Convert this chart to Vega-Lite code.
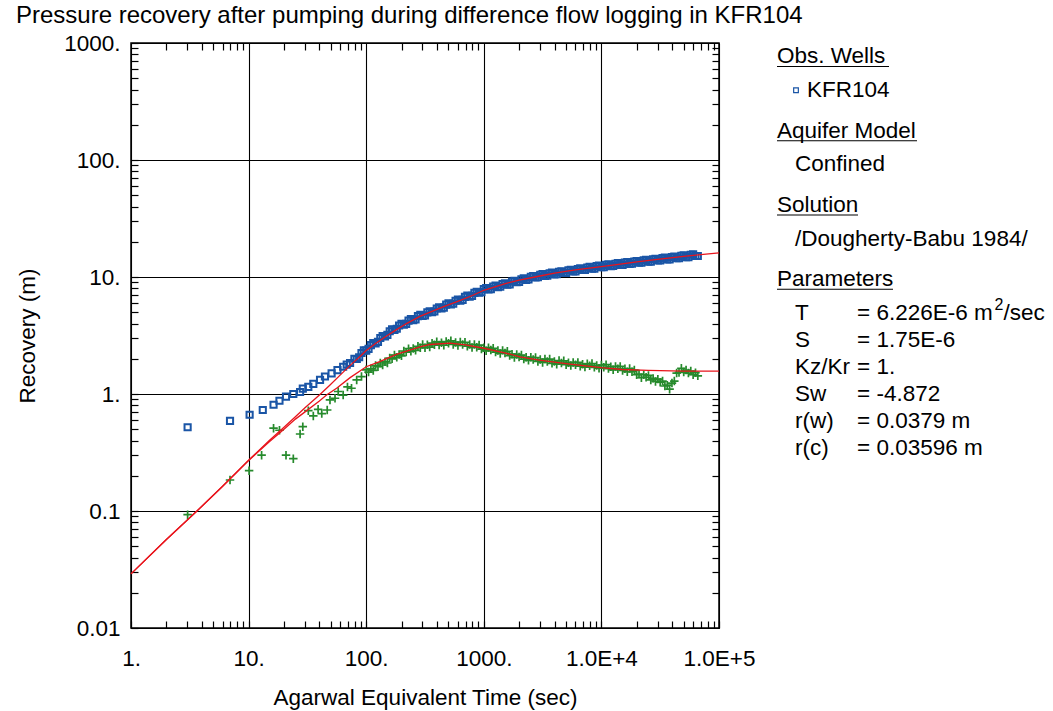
{
  "$schema": "https://vega.github.io/schema/vega-lite/v6.json",
  "padding": {"left": 15, "top": 4, "right": 0, "bottom": 0},
  "background": "white",
  "bounds": "flush",
  "spacing": 58,
  "title": {"text": "Pressure recovery after pumping during difference flow logging in KFR104", "anchor": "start", "fontSize": 24, "font": "Liberation Sans", "fontWeight": "normal", "color": "black", "offset": 3},
  "config": {
    "view": {"stroke": "black", "strokeWidth": 1.5},
    "axis": {"labelFont": "Liberation Sans", "titleFont": "Liberation Sans", "labelColor": "black", "titleColor": "black", "titleFontWeight": "normal", "labelFontSize": 22.5, "titleFontSize": 22.5, "tickColor": "black", "tickWidth": 1.2, "gridColor": "black", "gridWidth": 1.1, "domain": false, "labelOverlap": false, "labelFlush": false, "labelBound": false},
    "text": {"font": "Liberation Sans", "fontSize": 22.5, "color": "black"}
  },
  "datasets": {
    "rec": [
      {"t":3.03,"s":0.52},{"t":6.95,"s":0.59},{"t":10.2,"s":0.665},{"t":13.2,"s":0.73},{"t":16.3,"s":0.81},{"t":18.3,"s":0.876},{"t":20.8,"s":0.95},{"t":24.0,"s":1.0},{"t":27.4,"s":1.04},{"t":28.9,"s":1.11},{"t":32.2,"s":1.15},{"t":35.5,"s":1.22},{"t":40.5,"s":1.32},{"t":44.6,"s":1.41},{"t":50.8,"s":1.5},{"t":57.0,"s":1.6},{"t":63.7,"s":1.71},{"t":68.3,"s":1.78},{"t":72.9,"s":1.84},
      {"t":79.4,"s":2.0},{"t":83.2,"s":1.99},{"t":87.1,"s":2.06},{"t":91.2,"s":2.24},{"t":95.5,"s":2.36},{"t":100,"s":2.35},{"t":104.7,"s":2.43},{"t":109.6,"s":2.62},{"t":114.8,"s":2.73},{"t":120.2,"s":2.71},{"t":125.9,"s":2.79},{"t":131.8,"s":3.01},{"t":138.0,"s":3.13},{"t":144.5,"s":3.11},{"t":151.4,"s":3.2},{"t":158.5,"s":3.44},{"t":166.0,"s":3.57},{"t":173.8,"s":3.53},{"t":182.0,"s":3.61},{"t":190.5,"s":3.85},{"t":199.5,"s":3.97},{"t":208.9,"s":3.91},{"t":218.8,"s":3.98},{"t":229.1,"s":4.24},{"t":239.9,"s":4.36},{"t":251.2,"s":4.28},{"t":263.0,"s":4.35},{"t":275.4,"s":4.63},{"t":288.4,"s":4.75},{"t":302.0,"s":4.64},{"t":316.2,"s":4.7},{"t":331.1,"s":4.99},{"t":346.7,"s":5.1},{"t":363.1,"s":5.0},{"t":380.2,"s":5.07},{"t":398.1,"s":5.38},{"t":416.9,"s":5.51},{"t":436.5,"s":5.4},{"t":457.1,"s":5.48},{"t":478.6,"s":5.81},{"t":501.2,"s":5.95},{"t":524.8,"s":5.83},{"t":549.5,"s":5.91},{"t":575.4,"s":6.27},{"t":602.6,"s":6.42},{"t":631.0,"s":6.29},{"t":660.7,"s":6.38},{"t":691.8,"s":6.77},{"t":724.4,"s":6.93},{"t":758.6,"s":6.79},{"t":794.3,"s":6.89},{"t":831.8,"s":7.31},{"t":871.0,"s":7.48},{"t":912.0,"s":7.33},{"t":955.0,"s":7.43},{"t":1000,"s":7.87},
      {"t":1047,"s":8.05},{"t":1096,"s":7.83},{"t":1148,"s":7.88},{"t":1202,"s":8.3},{"t":1259,"s":8.44},{"t":1318,"s":8.2},{"t":1380,"s":8.26},{"t":1445,"s":8.7},{"t":1514,"s":8.85},{"t":1585,"s":8.6},{"t":1660,"s":8.66},{"t":1738,"s":9.12},{"t":1820,"s":9.28},{"t":1905,"s":9.02},{"t":1995,"s":9.07},{"t":2089,"s":9.56},{"t":2188,"s":9.73},{"t":2291,"s":9.46},{"t":2399,"s":9.52},{"t":2512,"s":10.03},{"t":2630,"s":10.2},{"t":2754,"s":9.91},{"t":2884,"s":9.98},{"t":3020,"s":10.46},{"t":3162,"s":10.59},{"t":3311,"s":10.24},{"t":3467,"s":10.26},{"t":3631,"s":10.76},{"t":3802,"s":10.89},{"t":3981,"s":10.53},{"t":4169,"s":10.55},{"t":4365,"s":11.06},{"t":4571,"s":11.19},{"t":4786,"s":10.84},{"t":5012,"s":10.86},{"t":5248,"s":11.38},{"t":5495,"s":11.51},{"t":5754,"s":11.14},{"t":6026,"s":11.16},{"t":6310,"s":11.7},{"t":6607,"s":11.85},{"t":6918,"s":11.47},{"t":7244,"s":11.49},{"t":7586,"s":12.04},{"t":7943,"s":12.19},{"t":8318,"s":11.79},{"t":8710,"s":11.81},{"t":9120,"s":12.38},{"t":9550,"s":12.54},{"t":10000,"s":12.12},
      {"t":10470,"s":12.13},{"t":10960,"s":12.7},{"t":11480,"s":12.83},{"t":12020,"s":12.4},{"t":12590,"s":12.41},{"t":13180,"s":12.98},{"t":13800,"s":13.12},{"t":14450,"s":12.68},{"t":15140,"s":12.68},{"t":15850,"s":13.27},{"t":16600,"s":13.41},{"t":17380,"s":12.96},{"t":18200,"s":12.97},{"t":19050,"s":13.57},{"t":19950,"s":13.71},{"t":20890,"s":13.25},{"t":21880,"s":13.25},{"t":22910,"s":13.87},{"t":23990,"s":14.01},{"t":25120,"s":13.54},{"t":26300,"s":13.55},{"t":27540,"s":14.18},{"t":28840,"s":14.33},{"t":30200,"s":13.84},{"t":31620,"s":13.85},{"t":33110,"s":14.49},{"t":34670,"s":14.65},{"t":36310,"s":14.15},{"t":38020,"s":14.16},{"t":39810,"s":14.82},{"t":41690,"s":14.98},{"t":43650,"s":14.47},{"t":45710,"s":14.47},{"t":47860,"s":15.15},{"t":50120,"s":15.31},{"t":52480,"s":14.79},{"t":54950,"s":14.8},{"t":57540,"s":15.49},{"t":60260,"s":15.65},{"t":63100,"s":15.12},{"t":66070,"s":15.13}
    ],
    "deriv": [
      {"t":3.03,"s":0.093},{"t":6.95,"s":0.184},{"t":10.1,"s":0.221},{"t":12.9,"s":0.30},{"t":16.3,"s":0.51},{"t":18.3,"s":0.49},{"t":20.8,"s":0.30},{"t":24.0,"s":0.28},{"t":27.4,"s":0.455},{"t":28.9,"s":0.526},{"t":32.2,"s":0.72},{"t":35.5,"s":0.65},{"t":39.0,"s":0.74},{"t":41.9,"s":0.68},{"t":46.6,"s":0.73},{"t":49.2,"s":0.89},{"t":54.3,"s":0.92},{"t":57.8,"s":1.05},{"t":63.7,"s":0.98},{"t":69.3,"s":1.15},{"t":75.0,"s":1.12},{"t":83.0,"s":1.32},{"t":91.2,"s":1.41},
      {"t":100,"s":1.61},{"t":104.7,"s":1.54},{"t":109.6,"s":1.64},{"t":114.8,"s":1.59},{"t":120.2,"s":1.75},{"t":125.9,"s":1.71},{"t":131.8,"s":1.84},{"t":138.0,"s":1.77},{"t":144.5,"s":1.89},{"t":151.4,"s":1.84},{"t":158.5,"s":2.03},{"t":166.0,"s":2.0},{"t":173.8,"s":2.15},{"t":182.0,"s":2.06},{"t":190.5,"s":2.18},{"t":199.5,"s":2.12},{"t":208.9,"s":2.33},{"t":218.8,"s":2.28},{"t":229.1,"s":2.44},{"t":239.9,"s":2.32},{"t":251.2,"s":2.45},{"t":263.0,"s":2.36},{"t":275.4,"s":2.56},{"t":288.4,"s":2.49},{"t":302.0,"s":2.65},{"t":316.2,"s":2.49},{"t":331.1,"s":2.63},{"t":346.7,"s":2.52},{"t":363.1,"s":2.72},{"t":380.2,"s":2.63},{"t":398.1,"s":2.79},{"t":416.9,"s":2.62},{"t":436.5,"s":2.74},{"t":457.1,"s":2.61},{"t":478.6,"s":2.81},{"t":501.2,"s":2.71},{"t":524.8,"s":2.85},{"t":549.5,"s":2.65},{"t":575.4,"s":2.75},{"t":602.6,"s":2.6},{"t":631.0,"s":2.78},{"t":660.7,"s":2.65},{"t":691.8,"s":2.77},{"t":724.4,"s":2.56},{"t":758.6,"s":2.65},{"t":794.3,"s":2.5},{"t":831.8,"s":2.65},{"t":871.0,"s":2.51},{"t":912.0,"s":2.62},{"t":955.0,"s":2.42},
      {"t":1000,"s":2.48},{"t":1047,"s":2.34},{"t":1096,"s":2.49},{"t":1148,"s":2.38},{"t":1202,"s":2.46},{"t":1259,"s":2.28},{"t":1318,"s":2.35},{"t":1380,"s":2.22},{"t":1445,"s":2.36},{"t":1514,"s":2.24},{"t":1585,"s":2.32},{"t":1660,"s":2.13},{"t":1738,"s":2.19},{"t":1820,"s":2.05},{"t":1905,"s":2.18},{"t":1995,"s":2.07},{"t":2089,"s":2.15},{"t":2188,"s":1.99},{"t":2291,"s":2.06},{"t":2399,"s":1.94},{"t":2512,"s":2.06},{"t":2630,"s":1.97},{"t":2754,"s":2.05},{"t":2884,"s":1.9},{"t":3020,"s":1.97},{"t":3162,"s":1.86},{"t":3311,"s":1.99},{"t":3467,"s":1.9},{"t":3631,"s":1.99},{"t":3802,"s":1.83},{"t":3981,"s":1.9},{"t":4169,"s":1.8},{"t":4365,"s":1.93},{"t":4571,"s":1.84},{"t":4786,"s":1.92},{"t":5012,"s":1.78},{"t":5248,"s":1.85},{"t":5495,"s":1.75},{"t":5754,"s":1.86},{"t":6026,"s":1.78},{"t":6310,"s":1.86},{"t":6607,"s":1.73},{"t":6918,"s":1.8},{"t":7244,"s":1.7},{"t":7586,"s":1.81},{"t":7943,"s":1.74},{"t":8318,"s":1.82},{"t":8710,"s":1.69},{"t":9120,"s":1.75},{"t":9550,"s":1.66},
      {"t":10000,"s":1.77},{"t":10470,"s":1.69},{"t":10960,"s":1.78},{"t":11480,"s":1.65},{"t":12020,"s":1.71},{"t":12590,"s":1.61},{"t":13180,"s":1.72},{"t":13800,"s":1.64},{"t":14450,"s":1.72},{"t":15140,"s":1.59},{"t":15850,"s":1.64},{"t":16600,"s":1.55},{"t":17380,"s":1.65},{"t":18200,"s":1.55},{"t":19050,"s":1.6},{"t":19950,"s":1.46},{"t":20890,"s":1.48},{"t":21880,"s":1.38},{"t":22910,"s":1.46},{"t":23990,"s":1.39},{"t":25120,"s":1.44},{"t":26300,"s":1.32},{"t":27540,"s":1.36},{"t":28840,"s":1.28},{"t":30200,"s":1.34},{"t":31620,"s":1.26},{"t":33110,"s":1.29},{"t":34670,"s":1.17},{"t":36310,"s":1.19},{"t":38020,"s":1.1},{"t":39810,"s":1.24},{"t":41690,"s":1.29},{"t":43650,"s":1.51},{"t":45710,"s":1.53},{"t":47860,"s":1.66},{"t":50120,"s":1.54},{"t":52480,"s":1.6},{"t":54950,"s":1.51},{"t":57540,"s":1.57},{"t":60260,"s":1.46},{"t":63100,"s":1.52},{"t":66070,"s":1.43}
    ],
    "fit": [
      {"curve":"recovery","t":1,"s":0.029},{"curve":"recovery","t":2,"s":0.057},{"curve":"recovery","t":3.6,"s":0.099},{"curve":"recovery","t":6,"s":0.163},{"curve":"recovery","t":10,"s":0.272},{"curve":"recovery","t":15,"s":0.40},{"curve":"recovery","t":20,"s":0.52},{"curve":"recovery","t":25,"s":0.64},{"curve":"recovery","t":30,"s":0.76},{"curve":"recovery","t":40,"s":0.98},{"curve":"recovery","t":49,"s":1.19},{"curve":"recovery","t":60,"s":1.45},{"curve":"recovery","t":75,"s":1.8},{"curve":"recovery","t":90,"s":2.12},{"curve":"recovery","t":100,"s":2.35},{"curve":"recovery","t":120,"s":2.7},{"curve":"recovery","t":150,"s":3.15},{"curve":"recovery","t":181,"s":3.55},{"curve":"recovery","t":220,"s":4.0},{"curve":"recovery","t":286,"s":4.6},{"curve":"recovery","t":350,"s":5.0},{"curve":"recovery","t":450,"s":5.55},{"curve":"recovery","t":600,"s":6.2},{"curve":"recovery","t":800,"s":6.95},{"curve":"recovery","t":1000,"s":7.7},{"curve":"recovery","t":1500,"s":8.75},{"curve":"recovery","t":2000,"s":9.4},{"curve":"recovery","t":3000,"s":10.2},{"curve":"recovery","t":4000,"s":10.8},{"curve":"recovery","t":6000,"s":11.5},{"curve":"recovery","t":10000,"s":12.25},{"curve":"recovery","t":15000,"s":12.95},{"curve":"recovery","t":20000,"s":13.45},{"curve":"recovery","t":30000,"s":14.15},{"curve":"recovery","t":50000,"s":15.0},{"curve":"recovery","t":70000,"s":15.55},{"curve":"recovery","t":100000,"s":16.1},
      {"curve":"derivative","t":1,"s":0.029},{"curve":"derivative","t":2,"s":0.057},{"curve":"derivative","t":3.6,"s":0.099},{"curve":"derivative","t":6,"s":0.162},{"curve":"derivative","t":10,"s":0.27},{"curve":"derivative","t":15,"s":0.39},{"curve":"derivative","t":20,"s":0.5},{"curve":"derivative","t":25,"s":0.61},{"curve":"derivative","t":30,"s":0.7},{"curve":"derivative","t":40,"s":0.87},{"curve":"derivative","t":46,"s":0.98},{"curve":"derivative","t":56,"s":1.12},{"curve":"derivative","t":73,"s":1.38},{"curve":"derivative","t":100,"s":1.71},{"curve":"derivative","t":130,"s":1.89},{"curve":"derivative","t":181,"s":2.18},{"curve":"derivative","t":286,"s":2.53},{"curve":"derivative","t":349,"s":2.65},{"curve":"derivative","t":514,"s":2.72},{"curve":"derivative","t":700,"s":2.63},{"curve":"derivative","t":1000,"s":2.46},{"curve":"derivative","t":1500,"s":2.25},{"curve":"derivative","t":2030,"s":2.08},{"curve":"derivative","t":2970,"s":1.95},{"curve":"derivative","t":5000,"s":1.82},{"curve":"derivative","t":7000,"s":1.75},{"curve":"derivative","t":10000,"s":1.68},{"curve":"derivative","t":15000,"s":1.62},{"curve":"derivative","t":25000,"s":1.59},{"curve":"derivative","t":50000,"s":1.57},{"curve":"derivative","t":100000,"s":1.57}
    ],
    "legendText": [
      {"col":0,"line":0.5,"label":"Obs. Wells"},
      {"col":3.0,"line":1.75,"label":"KFR104"},
      {"col":0,"line":3.25,"label":"Aquifer Model"},
      {"col":1.8,"line":4.5,"label":"Confined"},
      {"col":0,"line":6.0,"label":"Solution"},
      {"col":1.8,"line":7.25,"label":"/Dougherty-Babu 1984/"},
      {"col":0,"line":8.75,"label":"Parameters"},
      {"col":1.8,"line":10,"label":"T"},
      {"col":8.0,"line":10,"label":"= 6.226E-6 m"},
      {"col":22.65,"line":10,"label":"/sec"},
      {"col":1.8,"line":11,"label":"S"},
      {"col":8.0,"line":11,"label":"= 1.75E-6"},
      {"col":1.8,"line":12,"label":"Kz/Kr"},
      {"col":8.0,"line":12,"label":"= 1."},
      {"col":1.8,"line":13,"label":"Sw"},
      {"col":8.0,"line":13,"label":"= -4.872"},
      {"col":1.8,"line":14,"label":"r(w)"},
      {"col":8.0,"line":14,"label":"= 0.0379 m"},
      {"col":1.8,"line":15,"label":"r(c)"},
      {"col":8.0,"line":15,"label":"= 0.03596 m"}
    ],
    "underlines": [
      {"col":0,"end":11.2,"line":0.5},
      {"col":0,"end":14.0,"line":3.25},
      {"col":0,"end":8.1,"line":6.0},
      {"col":0,"end":11.6,"line":8.75}
    ]
  },
  "hconcat": [
    {
      "width": 588,
      "height": 585,
      "layer": [
        {
          "data": {"name": "rec"},
          "mark": {"type": "point", "shape": "square", "filled": false, "size": 38, "strokeWidth": 2, "color": "#1a55a6", "opacity": 1},
          "encoding": {
            "x": {"field": "t", "type": "quantitative", "scale": {"type": "log", "domain": [1, 100000], "nice": false},
              "axis": {"orient": "bottom", "title": "Agarwal Equivalent Time (sec)", "titlePadding": 17,
                "values": [1,2,3,4,5,6,7,8,9,10,20,30,40,50,60,70,80,90,100,200,300,400,500,600,700,800,900,1000,2000,3000,4000,5000,6000,7000,8000,9000,10000,20000,30000,40000,50000,60000,70000,80000,90000,100000],
                "labelExpr": "datum.value == 10000 ? '1.0E+4' : datum.value == 100000 ? '1.0E+5' : indexof([1,10,100,1000], datum.value) >= 0 ? datum.value + '.' : ''",
                "grid": true, "gridOpacity": {"condition": {"test": "indexof([1,10,100,1000,10000,100000], datum.value) >= 0", "value": 1}, "value": 0},
                "tickSize": -7, "labelPadding": 26}},
            "y": {"field": "s", "type": "quantitative", "scale": {"type": "log", "domain": [0.01, 1000], "nice": false},
              "axis": {"orient": "left", "title": "Recovery  (m)", "titlePadding": 24,
                "values": [0.01,0.02,0.03,0.04,0.05,0.06,0.07,0.08,0.09,0.1,0.2,0.3,0.4,0.5,0.6,0.7,0.8,0.9,1,2,3,4,5,6,7,8,9,10,20,30,40,50,60,70,80,90,100,200,300,400,500,600,700,800,900,1000],
                "labelExpr": "indexof([1,10,100,1000], datum.value) >= 0 ? datum.value + '.' : (datum.value == 0.1 || datum.value == 0.01) ? '' + datum.value : ''",
                "grid": true, "gridOpacity": {"condition": {"test": "indexof([0.01,0.1,1,10,100,1000], datum.value) >= 0", "value": 1}, "value": 0},
                "tickSize": -7, "labelPadding": 18}}
          }
        },
        {
          "data": {"name": "deriv"},
          "mark": {"type": "point", "shape": "M-1,0L1,0M0,-1L0,1", "filled": false, "size": 72, "strokeWidth": 1.7, "color": "#268a2c", "opacity": 1},
          "encoding": {
            "x": {"field": "t", "type": "quantitative", "scale": {"type": "log", "domain": [1, 100000], "nice": false},
              "axis": {"orient": "top", "title": null, "labels": false, "grid": false, "tickSize": -7,
                "values": [2,3,4,5,6,7,8,9,20,30,40,50,60,70,80,90,200,300,400,500,600,700,800,900,2000,3000,4000,5000,6000,7000,8000,9000,20000,30000,40000,50000,60000,70000,80000,90000]}},
            "y": {"field": "s", "type": "quantitative", "scale": {"type": "log", "domain": [0.01, 1000], "nice": false},
              "axis": {"orient": "right", "title": null, "labels": false, "grid": false, "tickSize": -7,
                "values": [0.02,0.03,0.04,0.05,0.06,0.07,0.08,0.09,0.2,0.3,0.4,0.5,0.6,0.7,0.8,0.9,2,3,4,5,6,7,8,9,20,30,40,50,60,70,80,90,200,300,400,500,600,700,800,900]}}
          }
        },
        {
          "data": {"name": "fit"},
          "mark": {"type": "line", "color": "#e8141c", "strokeWidth": 1.3},
          "encoding": {
            "x": {"field": "t", "type": "quantitative", "scale": {"type": "log", "domain": [1, 100000], "nice": false}, "axis": null},
            "y": {"field": "s", "type": "quantitative", "scale": {"type": "log", "domain": [0.01, 1000], "nice": false}, "axis": null},
            "detail": {"field": "curve"}
          }
        }
      ]
    },
    {
      "width": 276,
      "height": 585,
      "view": {"stroke": null},
      "layer": [
        {
          "data": {"name": "legendText"},
          "mark": {"type": "text", "align": "left", "baseline": "middle"},
          "encoding": {
            "x": {"field": "col", "type": "quantitative", "scale": {"domain": [0, 27.6], "nice": false, "zero": false}, "axis": null},
            "y": {"field": "line", "type": "quantitative", "scale": {"domain": [0, 21.667], "reverse": true, "nice": false, "zero": false}, "axis": null},
            "text": {"field": "label"}
          }
        },
        {
          "data": {"values": [{"col": 21.75, "line": 10, "label": "2"}]},
          "mark": {"type": "text", "align": "left", "baseline": "middle", "fontSize": 16, "dy": -8},
          "encoding": {
            "x": {"field": "col", "type": "quantitative", "scale": {"domain": [0, 27.6], "nice": false, "zero": false}, "axis": null},
            "y": {"field": "line", "type": "quantitative", "scale": {"domain": [0, 21.667], "reverse": true, "nice": false, "zero": false}, "axis": null},
            "text": {"field": "label"}
          }
        },
        {
          "data": {"name": "underlines"},
          "mark": {"type": "rule", "color": "black", "strokeWidth": 1.2, "yOffset": 10},
          "encoding": {
            "x": {"field": "col", "type": "quantitative", "scale": {"domain": [0, 27.6], "nice": false, "zero": false}, "axis": null},
            "x2": {"field": "end"},
            "y": {"field": "line", "type": "quantitative", "scale": {"domain": [0, 21.667], "reverse": true, "nice": false, "zero": false}, "axis": null}
          }
        },
        {
          "data": {"values": [{"col": 1.9, "line": 1.75}]},
          "mark": {"type": "point", "shape": "square", "filled": false, "size": 22, "strokeWidth": 1.2, "color": "#1a55a6", "opacity": 1},
          "encoding": {
            "x": {"field": "col", "type": "quantitative", "scale": {"domain": [0, 27.6], "nice": false, "zero": false}, "axis": null},
            "y": {"field": "line", "type": "quantitative", "scale": {"domain": [0, 21.667], "reverse": true, "nice": false, "zero": false}, "axis": null}
          }
        }
      ]
    }
  ]
}
